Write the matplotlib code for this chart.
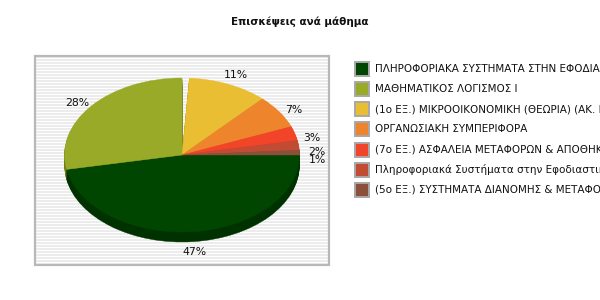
import numpy as np
import matplotlib
matplotlib.use("Agg")
import matplotlib.pyplot as plt
from matplotlib.patches import Wedge, Rectangle
from matplotlib.transforms import Affine2D

# ---- data ----
title = "Επισκέψεις ανά μάθημα"
categories = [
    "ΠΛΗΡΟΦΟΡΙΑΚΑ ΣΥΣΤΗΜΑΤΑ ΣΤΗΝ ΕΦΟΔΙΑΣΤΙΚΗ",
    "ΜΑΘΗΜΑΤΙΚΟΣ ΛΟΓΙΣΜΟΣ Ι",
    "(1ο ΕΞ.) ΜΙΚΡΟΟΙΚΟΝΟΜΙΚΗ (ΘΕΩΡΙΑ) (ΑΚ. ΕΤΟΣ)",
    "ΟΡΓΑΝΩΣΙΑΚΗ ΣΥΜΠΕΡΙΦΟΡΑ",
    "(7ο ΕΞ.) ΑΣΦΑΛΕΙΑ ΜΕΤΑΦΟΡΩΝ & ΑΠΟΘΗΚΕΥΣΗΣ",
    "Πληροφοριακά Συστήματα στην Εφοδιαστική",
    "(5ο ΕΞ.) ΣΥΣΤΗΜΑΤΑ ΔΙΑΝΟΜΗΣ & ΜΕΤΑΦΟΡΩΝ",
]
values = [47, 28, 11, 7, 3, 2, 1]
colors = ["#004600", "#98AA28", "#E9BE32", "#EE842C", "#F24428", "#C24B34", "#8B5039"]
side_colors = ["#003200", "#6E7C1C", "#B08E20", "#B06020", "#B03018", "#8E3624", "#653A28"]

W, H = 600, 300
fig = plt.figure(figsize=(6, 3), dpi=100)
ax = fig.add_axes([0, 0, 1, 1])
ax.set_xlim(0, W)
ax.set_ylim(0, H)
ax.axis("off")

def Y(yp):
    return H - yp

# plot-area background with stripes
px0, px1, py0, py1 = 35, 329, 56, 265
ax.add_patch(Rectangle((px0, Y(py1)), px1 - px0, py1 - py0, facecolor="#ececec",
                       edgecolor="none", zorder=0))
for yy in np.arange(py0 + 2, py1, 3):
    ax.plot([px0, px1], [Y(yy), Y(yy)], color="white", lw=0.72, zorder=0.5,
            solid_capstyle="butt")
ax.add_patch(Rectangle((px0, Y(py1)), px1 - px0, py1 - py0, facecolor="none",
                       edgecolor="#b8b8b8", lw=1.6, zorder=0.8))

# pie geometry (pixels)
cx, cy = 182, 155
rx, ry = 117.5, 77.0
depth = 10
k = ry / rx

# angles: first two slices clockwise from 0 deg, rest counter-clockwise from 0 deg
fr = np.array(values) / 100.0
angles = []
a = 0.0
for f in fr[:2]:
    angles.append((a - f * 360, a))
    a -= f * 360
b = 0.0
tail = []
for f in fr[:1:-1]:
    tail.append((b, b + f * 360))
    b += f * 360
angles += tail[::-1]

def tr(dy=0):
    return Affine2D().scale(1, k).translate(cx, Y(cy) - dy) + ax.transData

# sides (layers)
for d in range(depth, 0, -1):
    for (t1, t2), sc in zip(angles, side_colors):
        ax.add_patch(Wedge((0, 0), rx, t1, t2, facecolor=sc, edgecolor=sc, lw=0.3,
                           transform=tr(d), zorder=2))
# tops
for (t1, t2), c in zip(angles, colors):
    ax.add_patch(Wedge((0, 0), rx, t1, t2, facecolor=c, edgecolor=c, lw=0.3,
                       transform=tr(0), zorder=3))

# percentage labels
tot = sum(values)
for (t1, t2), v in zip(angles, values):
    m = np.deg2rad((t1 + t2) / 2)
    s, c = np.sin(m), np.cos(m)
    lx = cx + (rx + 18) * c
    ly = cy - (ry + 12 + 8 * max(s, 0)) * s + 8
    ax.text(lx, Y(ly), f"{round(100 * v / tot):d}%", ha="center", va="center",
            fontsize=7.8, color="#111111", zorder=5)

# title
ax.text(300, Y(22), title, ha="center", va="center", fontsize=7.5,
        fontweight="bold", color="#111111")

# legend
lx0, ly0, step = 355, 68.5, 20.25
for i, (lab, c) in enumerate(zip(categories, colors)):
    yc = ly0 + i * step
    ax.add_patch(Rectangle((lx0, Y(yc + 7)), 14, 14, facecolor=c,
                           edgecolor="#a8a8a8", lw=1.4, zorder=4))
    ax.text(lx0 + 20, Y(yc), lab, ha="left", va="center", fontsize=7.5,
            color="#111111", clip_on=True)

fig.savefig("out.png", dpi=100, facecolor="white")
